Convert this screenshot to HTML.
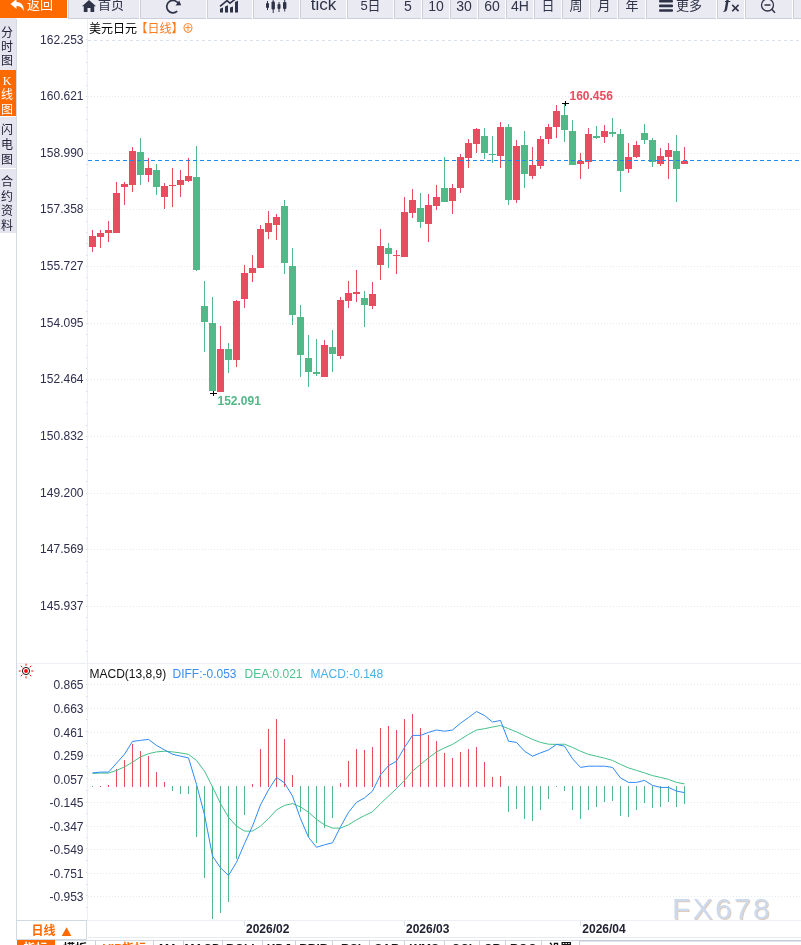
<!DOCTYPE html>
<html lang="zh-CN">
<head>
<meta charset="utf-8">
<title>美元日元 日线</title>
<style>
html,body{margin:0;padding:0;background:#fff;}
body{width:801px;height:945px;overflow:hidden;position:relative;font-family:"Liberation Sans","Noto Sans CJK SC",sans-serif;}
.chart{position:absolute;left:0;top:0;font-family:"Liberation Sans","Noto Sans CJK SC",sans-serif;}
.toolbar{position:absolute;left:0;top:0;width:801px;height:19px;background:#fff;overflow:hidden;}
.tb{position:absolute;top:0;height:18px;background:#eaeaf3;border-bottom:1px solid #cdcedb;border-left:1px solid #cdcedb;color:#2f3347;font-size:13px;line-height:20px;white-space:nowrap;overflow:hidden;}
.tb.orange{background:#ff6a00;border:none;height:18px;}
.tb .c{position:absolute;left:0;right:0;top:-4px;text-align:center;}
.st{position:absolute;left:0;width:16px;box-sizing:border-box;padding-right:2px;background:#e4e5ee;color:#22223a;font-size:12px;text-align:center;}
.st span{display:block;line-height:14px;height:14px;}
.st.orange{background:#ff6a00;color:#fff;width:16px;}
.title{position:absolute;left:89px;top:21px;font-size:12px;line-height:16px;color:#000;white-space:nowrap;}
.title b{font-weight:normal;color:#ff7a1a;margin-left:-1.5px;}
.period{position:absolute;left:16px;top:920px;width:69px;height:18px;border:1px solid #d0d8e2;background:#fff;font-size:12px;line-height:20px;font-weight:bold;color:#ff6a00;text-align:center;}
.btabs{position:absolute;left:0;top:940px;width:801px;height:5px;overflow:hidden;}
.bt{position:absolute;top:0;height:20px;border-top:1px solid #d5dbe6;border-right:1px solid #c9cfdc;font-size:12px;line-height:16px;text-align:center;color:#111;font-weight:bold;background:#fff;}
.bt.on{background:#ff6a00;color:#fff;border-color:#ff6a00;}
.bt.vip{color:#ff6a00;}
</style>
</head>
<body>
<svg class="chart" width="801" height="945" viewBox="0 0 801 945">
<g stroke="#e3ebf1" stroke-width="1" stroke-dasharray="1 2" shape-rendering="crispEdges">
<line x1="88" x2="801" y1="40.5" y2="40.5" stroke-dasharray="3 3" stroke="#d9e2ec"/>
<line x1="88" x2="801" y1="96.5" y2="96.5"/>
<line x1="88" x2="801" y1="153.5" y2="153.5"/>
<line x1="88" x2="801" y1="209.5" y2="209.5"/>
<line x1="88" x2="801" y1="266.5" y2="266.5"/>
<line x1="88" x2="801" y1="323.5" y2="323.5"/>
<line x1="88" x2="801" y1="379.5" y2="379.5"/>
<line x1="88" x2="801" y1="436.5" y2="436.5"/>
<line x1="88" x2="801" y1="493.5" y2="493.5"/>
<line x1="88" x2="801" y1="549.5" y2="549.5"/>
<line x1="88" x2="801" y1="606.5" y2="606.5"/>
<line x1="88" x2="801" y1="684.5" y2="684.5"/>
<line x1="88" x2="801" y1="708.5" y2="708.5"/>
<line x1="88" x2="801" y1="732.5" y2="732.5"/>
<line x1="88" x2="801" y1="755.5" y2="755.5"/>
<line x1="88" x2="801" y1="779.5" y2="779.5"/>
<line x1="88" x2="801" y1="802.5" y2="802.5"/>
<line x1="88" x2="801" y1="826.5" y2="826.5"/>
<line x1="88" x2="801" y1="849.5" y2="849.5"/>
<line x1="88" x2="801" y1="873.5" y2="873.5"/>
<line x1="88" x2="801" y1="896.5" y2="896.5"/>
</g>
<g stroke="#dbe1ec" stroke-width="1" shape-rendering="crispEdges">
<line x1="16.5" x2="16.5" y1="18" y2="940" stroke="#d3dbe5"/>
<line x1="87.5" x2="87.5" y1="18" y2="921" stroke="#ecf0f5"/>
<line x1="17" x2="801" y1="663.5" y2="663.5" stroke="#ecf0f5"/>
<line x1="17" x2="801" y1="920.5" y2="920.5" stroke="#ecf0f5"/>
<line x1="88" x2="801" y1="937.5" y2="937.5" stroke="#e6eaf1"/>
<line x1="580" x2="801" y1="940.5" y2="940.5" stroke="#c5ccd8"/>
<line x1="580" x2="801" y1="941.5" y2="941.5" stroke="#dfe4ec"/>
<line x1="244.5" x2="244.5" y1="921" y2="926"/>
<line x1="404.5" x2="404.5" y1="921" y2="926"/>
<line x1="580.5" x2="580.5" y1="921" y2="926"/>
</g>
<g stroke="#d3d7df" stroke-width="1" shape-rendering="crispEdges">
<line x1="86" x2="87" y1="39.5" y2="39.5"/>
<line x1="86" x2="87" y1="51.5" y2="51.5"/>
<line x1="86" x2="87" y1="62.5" y2="62.5"/>
<line x1="86" x2="87" y1="73.5" y2="73.5"/>
<line x1="86" x2="87" y1="85.5" y2="85.5"/>
<line x1="86" x2="87" y1="96.5" y2="96.5"/>
<line x1="86" x2="87" y1="107.5" y2="107.5"/>
<line x1="86" x2="87" y1="119.5" y2="119.5"/>
<line x1="86" x2="87" y1="130.5" y2="130.5"/>
<line x1="86" x2="87" y1="141.5" y2="141.5"/>
<line x1="86" x2="87" y1="153.5" y2="153.5"/>
<line x1="86" x2="87" y1="164.5" y2="164.5"/>
<line x1="86" x2="87" y1="175.5" y2="175.5"/>
<line x1="86" x2="87" y1="187.5" y2="187.5"/>
<line x1="86" x2="87" y1="198.5" y2="198.5"/>
<line x1="86" x2="87" y1="209.5" y2="209.5"/>
<line x1="86" x2="87" y1="221.5" y2="221.5"/>
<line x1="86" x2="87" y1="232.5" y2="232.5"/>
<line x1="86" x2="87" y1="243.5" y2="243.5"/>
<line x1="86" x2="87" y1="255.5" y2="255.5"/>
<line x1="86" x2="87" y1="266.5" y2="266.5"/>
<line x1="86" x2="87" y1="277.5" y2="277.5"/>
<line x1="86" x2="87" y1="289.5" y2="289.5"/>
<line x1="86" x2="87" y1="300.5" y2="300.5"/>
<line x1="86" x2="87" y1="311.5" y2="311.5"/>
<line x1="86" x2="87" y1="323.5" y2="323.5"/>
<line x1="86" x2="87" y1="334.5" y2="334.5"/>
<line x1="86" x2="87" y1="345.5" y2="345.5"/>
<line x1="86" x2="87" y1="357.5" y2="357.5"/>
<line x1="86" x2="87" y1="368.5" y2="368.5"/>
<line x1="86" x2="87" y1="379.5" y2="379.5"/>
<line x1="86" x2="87" y1="391.5" y2="391.5"/>
<line x1="86" x2="87" y1="402.5" y2="402.5"/>
<line x1="86" x2="87" y1="413.5" y2="413.5"/>
<line x1="86" x2="87" y1="425.5" y2="425.5"/>
<line x1="86" x2="87" y1="436.5" y2="436.5"/>
<line x1="86" x2="87" y1="447.5" y2="447.5"/>
<line x1="86" x2="87" y1="459.5" y2="459.5"/>
<line x1="86" x2="87" y1="470.5" y2="470.5"/>
<line x1="86" x2="87" y1="481.5" y2="481.5"/>
<line x1="86" x2="87" y1="493.5" y2="493.5"/>
<line x1="86" x2="87" y1="504.5" y2="504.5"/>
<line x1="86" x2="87" y1="515.5" y2="515.5"/>
<line x1="86" x2="87" y1="527.5" y2="527.5"/>
<line x1="86" x2="87" y1="538.5" y2="538.5"/>
<line x1="86" x2="87" y1="549.5" y2="549.5"/>
<line x1="86" x2="87" y1="561.5" y2="561.5"/>
<line x1="86" x2="87" y1="572.5" y2="572.5"/>
<line x1="86" x2="87" y1="583.5" y2="583.5"/>
<line x1="86" x2="87" y1="595.5" y2="595.5"/>
<line x1="86" x2="87" y1="606.5" y2="606.5"/>
<line x1="86" x2="87" y1="617.5" y2="617.5"/>
<line x1="86" x2="87" y1="629.5" y2="629.5"/>
<line x1="86" x2="87" y1="640.5" y2="640.5"/>
<line x1="86" x2="87" y1="651.5" y2="651.5"/>
<line x1="86" x2="87" y1="684.5" y2="684.5"/>
<line x1="86" x2="87" y1="696.5" y2="696.5"/>
<line x1="86" x2="87" y1="708.5" y2="708.5"/>
<line x1="86" x2="87" y1="719.5" y2="719.5"/>
<line x1="86" x2="87" y1="731.5" y2="731.5"/>
<line x1="86" x2="87" y1="743.5" y2="743.5"/>
<line x1="86" x2="87" y1="755.5" y2="755.5"/>
<line x1="86" x2="87" y1="766.5" y2="766.5"/>
<line x1="86" x2="87" y1="778.5" y2="778.5"/>
<line x1="86" x2="87" y1="790.5" y2="790.5"/>
<line x1="86" x2="87" y1="802.5" y2="802.5"/>
<line x1="86" x2="87" y1="813.5" y2="813.5"/>
<line x1="86" x2="87" y1="825.5" y2="825.5"/>
<line x1="86" x2="87" y1="837.5" y2="837.5"/>
<line x1="86" x2="87" y1="848.5" y2="848.5"/>
<line x1="86" x2="87" y1="860.5" y2="860.5"/>
<line x1="86" x2="87" y1="872.5" y2="872.5"/>
<line x1="86" x2="87" y1="884.5" y2="884.5"/>
<line x1="86" x2="87" y1="895.5" y2="895.5"/>
<line x1="86" x2="87" y1="907.5" y2="907.5"/>
</g>
<g shape-rendering="crispEdges">
<rect x="92" y="230" width="1" height="22" fill="#ea4c5f"/>
<rect x="89" y="236" width="7" height="11" fill="#ea4c5f"/>
<rect x="100" y="230" width="1" height="18" fill="#ea4c5f"/>
<rect x="97" y="233" width="7" height="4" fill="#ea4c5f"/>
<rect x="108" y="221" width="1" height="21" fill="#ea4c5f"/>
<rect x="105" y="230" width="7" height="3" fill="#ea4c5f"/>
<rect x="116" y="182" width="1" height="51" fill="#ea4c5f"/>
<rect x="113" y="193" width="7" height="40" fill="#ea4c5f"/>
<rect x="124" y="182" width="1" height="23" fill="#ea4c5f"/>
<rect x="121" y="184" width="7" height="3" fill="#ea4c5f"/>
<rect x="132" y="147" width="1" height="45" fill="#ea4c5f"/>
<rect x="129" y="151" width="7" height="34" fill="#ea4c5f"/>
<rect x="140" y="138" width="1" height="47" fill="#53b787"/>
<rect x="137" y="152" width="7" height="23" fill="#53b787"/>
<rect x="148" y="158" width="1" height="24" fill="#ea4c5f"/>
<rect x="145" y="168" width="7" height="7" fill="#ea4c5f"/>
<rect x="156" y="164" width="1" height="31" fill="#53b787"/>
<rect x="153" y="170" width="7" height="17" fill="#53b787"/>
<rect x="164" y="183" width="1" height="26" fill="#ea4c5f"/>
<rect x="161" y="186" width="7" height="11" fill="#ea4c5f"/>
<rect x="172" y="168" width="1" height="39" fill="#ea4c5f"/>
<rect x="169" y="185" width="7" height="1" fill="#ea4c5f"/>
<rect x="180" y="170" width="1" height="27" fill="#ea4c5f"/>
<rect x="177" y="180" width="7" height="5" fill="#ea4c5f"/>
<rect x="188" y="158" width="1" height="24" fill="#ea4c5f"/>
<rect x="185" y="176" width="7" height="5" fill="#ea4c5f"/>
<rect x="196" y="146" width="1" height="125" fill="#53b787"/>
<rect x="193" y="177" width="7" height="93" fill="#53b787"/>
<rect x="204" y="281" width="1" height="71" fill="#53b787"/>
<rect x="201" y="306" width="7" height="16" fill="#53b787"/>
<rect x="212" y="297" width="1" height="94" fill="#53b787"/>
<rect x="209" y="323" width="7" height="68" fill="#53b787"/>
<rect x="220" y="326" width="1" height="66" fill="#ea4c5f"/>
<rect x="217" y="349" width="7" height="43" fill="#ea4c5f"/>
<rect x="228" y="343" width="1" height="30" fill="#53b787"/>
<rect x="225" y="349" width="7" height="11" fill="#53b787"/>
<rect x="236" y="300" width="1" height="67" fill="#ea4c5f"/>
<rect x="233" y="301" width="7" height="59" fill="#ea4c5f"/>
<rect x="244" y="265" width="1" height="43" fill="#ea4c5f"/>
<rect x="241" y="273" width="7" height="26" fill="#ea4c5f"/>
<rect x="252" y="255" width="1" height="27" fill="#ea4c5f"/>
<rect x="249" y="268" width="7" height="5" fill="#ea4c5f"/>
<rect x="260" y="225" width="1" height="43" fill="#ea4c5f"/>
<rect x="257" y="229" width="7" height="39" fill="#ea4c5f"/>
<rect x="268" y="211" width="1" height="28" fill="#ea4c5f"/>
<rect x="265" y="223" width="7" height="9" fill="#ea4c5f"/>
<rect x="276" y="214" width="1" height="26" fill="#ea4c5f"/>
<rect x="273" y="217" width="7" height="8" fill="#ea4c5f"/>
<rect x="284" y="200" width="1" height="74" fill="#53b787"/>
<rect x="281" y="206" width="7" height="57" fill="#53b787"/>
<rect x="292" y="248" width="1" height="77" fill="#53b787"/>
<rect x="289" y="266" width="7" height="49" fill="#53b787"/>
<rect x="300" y="305" width="1" height="72" fill="#53b787"/>
<rect x="297" y="317" width="7" height="38" fill="#53b787"/>
<rect x="308" y="335" width="1" height="52" fill="#53b787"/>
<rect x="305" y="358" width="7" height="14" fill="#53b787"/>
<rect x="316" y="339" width="1" height="37" fill="#53b787"/>
<rect x="313" y="372" width="7" height="2" fill="#53b787"/>
<rect x="324" y="340" width="1" height="37" fill="#ea4c5f"/>
<rect x="321" y="345" width="7" height="32" fill="#ea4c5f"/>
<rect x="332" y="330" width="1" height="42" fill="#53b787"/>
<rect x="329" y="347" width="7" height="7" fill="#53b787"/>
<rect x="340" y="297" width="1" height="62" fill="#ea4c5f"/>
<rect x="337" y="300" width="7" height="56" fill="#ea4c5f"/>
<rect x="348" y="281" width="1" height="27" fill="#ea4c5f"/>
<rect x="345" y="293" width="7" height="8" fill="#ea4c5f"/>
<rect x="356" y="270" width="1" height="32" fill="#ea4c5f"/>
<rect x="353" y="292" width="7" height="2" fill="#ea4c5f"/>
<rect x="364" y="291" width="1" height="36" fill="#53b787"/>
<rect x="361" y="298" width="7" height="7" fill="#53b787"/>
<rect x="372" y="282" width="1" height="27" fill="#ea4c5f"/>
<rect x="369" y="294" width="7" height="12" fill="#ea4c5f"/>
<rect x="380" y="229" width="1" height="51" fill="#ea4c5f"/>
<rect x="377" y="246" width="7" height="19" fill="#ea4c5f"/>
<rect x="388" y="243" width="1" height="25" fill="#53b787"/>
<rect x="385" y="248" width="7" height="6" fill="#53b787"/>
<rect x="396" y="250" width="1" height="24" fill="#ea4c5f"/>
<rect x="393" y="255" width="7" height="1" fill="#ea4c5f"/>
<rect x="404" y="197" width="1" height="60" fill="#ea4c5f"/>
<rect x="401" y="212" width="7" height="45" fill="#ea4c5f"/>
<rect x="412" y="189" width="1" height="29" fill="#ea4c5f"/>
<rect x="409" y="200" width="7" height="13" fill="#ea4c5f"/>
<rect x="420" y="193" width="1" height="35" fill="#53b787"/>
<rect x="417" y="208" width="7" height="14" fill="#53b787"/>
<rect x="428" y="194" width="1" height="48" fill="#ea4c5f"/>
<rect x="425" y="205" width="7" height="19" fill="#ea4c5f"/>
<rect x="436" y="185" width="1" height="25" fill="#ea4c5f"/>
<rect x="433" y="197" width="7" height="9" fill="#ea4c5f"/>
<rect x="444" y="157" width="1" height="45" fill="#53b787"/>
<rect x="441" y="188" width="7" height="14" fill="#53b787"/>
<rect x="452" y="184" width="1" height="30" fill="#ea4c5f"/>
<rect x="449" y="188" width="7" height="13" fill="#ea4c5f"/>
<rect x="460" y="154" width="1" height="39" fill="#ea4c5f"/>
<rect x="457" y="157" width="7" height="31" fill="#ea4c5f"/>
<rect x="468" y="139" width="1" height="29" fill="#ea4c5f"/>
<rect x="465" y="143" width="7" height="15" fill="#ea4c5f"/>
<rect x="476" y="128" width="1" height="25" fill="#ea4c5f"/>
<rect x="473" y="129" width="7" height="15" fill="#ea4c5f"/>
<rect x="484" y="128" width="1" height="31" fill="#53b787"/>
<rect x="481" y="136" width="7" height="17" fill="#53b787"/>
<rect x="492" y="136" width="1" height="27" fill="#53b787"/>
<rect x="489" y="154" width="7" height="1" fill="#53b787"/>
<rect x="500" y="122" width="1" height="46" fill="#ea4c5f"/>
<rect x="497" y="127" width="7" height="29" fill="#ea4c5f"/>
<rect x="508" y="124" width="1" height="81" fill="#53b787"/>
<rect x="505" y="127" width="7" height="73" fill="#53b787"/>
<rect x="516" y="140" width="1" height="63" fill="#ea4c5f"/>
<rect x="513" y="146" width="7" height="54" fill="#ea4c5f"/>
<rect x="524" y="131" width="1" height="57" fill="#53b787"/>
<rect x="521" y="145" width="7" height="29" fill="#53b787"/>
<rect x="532" y="147" width="1" height="32" fill="#ea4c5f"/>
<rect x="529" y="165" width="7" height="11" fill="#ea4c5f"/>
<rect x="540" y="136" width="1" height="33" fill="#ea4c5f"/>
<rect x="537" y="139" width="7" height="27" fill="#ea4c5f"/>
<rect x="548" y="124" width="1" height="20" fill="#ea4c5f"/>
<rect x="545" y="127" width="7" height="12" fill="#ea4c5f"/>
<rect x="556" y="105" width="1" height="33" fill="#ea4c5f"/>
<rect x="553" y="111" width="7" height="16" fill="#ea4c5f"/>
<rect x="564" y="103" width="1" height="39" fill="#53b787"/>
<rect x="561" y="115" width="7" height="15" fill="#53b787"/>
<rect x="572" y="120" width="1" height="45" fill="#53b787"/>
<rect x="569" y="131" width="7" height="34" fill="#53b787"/>
<rect x="580" y="153" width="1" height="26" fill="#ea4c5f"/>
<rect x="577" y="161" width="7" height="3" fill="#ea4c5f"/>
<rect x="588" y="128" width="1" height="41" fill="#ea4c5f"/>
<rect x="585" y="134" width="7" height="28" fill="#ea4c5f"/>
<rect x="596" y="126" width="1" height="13" fill="#53b787"/>
<rect x="593" y="136" width="7" height="2" fill="#53b787"/>
<rect x="604" y="125" width="1" height="18" fill="#ea4c5f"/>
<rect x="601" y="131" width="7" height="6" fill="#ea4c5f"/>
<rect x="612" y="118" width="1" height="19" fill="#53b787"/>
<rect x="609" y="132" width="7" height="2" fill="#53b787"/>
<rect x="620" y="129" width="1" height="63" fill="#53b787"/>
<rect x="617" y="134" width="7" height="37" fill="#53b787"/>
<rect x="628" y="143" width="1" height="30" fill="#ea4c5f"/>
<rect x="625" y="157" width="7" height="12" fill="#ea4c5f"/>
<rect x="636" y="141" width="1" height="17" fill="#ea4c5f"/>
<rect x="633" y="145" width="7" height="12" fill="#ea4c5f"/>
<rect x="644" y="124" width="1" height="20" fill="#53b787"/>
<rect x="641" y="133" width="7" height="7" fill="#53b787"/>
<rect x="652" y="138" width="1" height="29" fill="#53b787"/>
<rect x="649" y="140" width="7" height="22" fill="#53b787"/>
<rect x="660" y="148" width="1" height="18" fill="#ea4c5f"/>
<rect x="657" y="156" width="7" height="8" fill="#ea4c5f"/>
<rect x="668" y="143" width="1" height="36" fill="#ea4c5f"/>
<rect x="665" y="150" width="7" height="7" fill="#ea4c5f"/>
<rect x="676" y="135" width="1" height="67" fill="#53b787"/>
<rect x="673" y="151" width="7" height="18" fill="#53b787"/>
<rect x="684" y="147" width="1" height="17" fill="#ea4c5f"/>
<rect x="681" y="161" width="7" height="3" fill="#ea4c5f"/>
</g>
<line x1="88" x2="801" y1="160.5" y2="160.5" stroke="#1e88f5" stroke-width="1" stroke-dasharray="4 3" shape-rendering="crispEdges"/>
<g shape-rendering="crispEdges">
<rect x="92" y="786" width="1" height="1" fill="#53b787"/>
<rect x="100" y="786" width="1" height="1" fill="#ea4c5f"/>
<rect x="108" y="785" width="1" height="2" fill="#ea4c5f"/>
<rect x="116" y="769" width="1" height="18" fill="#ea4c5f"/>
<rect x="124" y="760" width="1" height="27" fill="#ea4c5f"/>
<rect x="132" y="744" width="1" height="43" fill="#ea4c5f"/>
<rect x="140" y="751" width="1" height="36" fill="#ea4c5f"/>
<rect x="148" y="756" width="1" height="31" fill="#ea4c5f"/>
<rect x="156" y="772" width="1" height="15" fill="#ea4c5f"/>
<rect x="164" y="782" width="1" height="5" fill="#ea4c5f"/>
<rect x="172" y="786" width="1" height="5" fill="#53b787"/>
<rect x="180" y="786" width="1" height="8" fill="#53b787"/>
<rect x="188" y="786" width="1" height="8" fill="#53b787"/>
<rect x="196" y="786" width="1" height="51" fill="#53b787"/>
<rect x="204" y="786" width="1" height="92" fill="#53b787"/>
<rect x="212" y="786" width="1" height="133" fill="#53b787"/>
<rect x="220" y="786" width="1" height="127" fill="#53b787"/>
<rect x="228" y="786" width="1" height="116" fill="#53b787"/>
<rect x="236" y="786" width="1" height="73" fill="#53b787"/>
<rect x="244" y="786" width="1" height="29" fill="#53b787"/>
<rect x="252" y="784" width="1" height="3" fill="#ea4c5f"/>
<rect x="260" y="749" width="1" height="38" fill="#ea4c5f"/>
<rect x="268" y="729" width="1" height="58" fill="#ea4c5f"/>
<rect x="276" y="719" width="1" height="68" fill="#ea4c5f"/>
<rect x="284" y="739" width="1" height="48" fill="#ea4c5f"/>
<rect x="292" y="775" width="1" height="12" fill="#ea4c5f"/>
<rect x="300" y="786" width="1" height="26" fill="#53b787"/>
<rect x="308" y="786" width="1" height="51" fill="#53b787"/>
<rect x="316" y="786" width="1" height="57" fill="#53b787"/>
<rect x="324" y="786" width="1" height="42" fill="#53b787"/>
<rect x="332" y="786" width="1" height="32" fill="#53b787"/>
<rect x="340" y="783" width="1" height="4" fill="#ea4c5f"/>
<rect x="348" y="761" width="1" height="26" fill="#ea4c5f"/>
<rect x="356" y="749" width="1" height="38" fill="#ea4c5f"/>
<rect x="364" y="750" width="1" height="37" fill="#ea4c5f"/>
<rect x="372" y="747" width="1" height="40" fill="#ea4c5f"/>
<rect x="380" y="728" width="1" height="59" fill="#ea4c5f"/>
<rect x="388" y="726" width="1" height="61" fill="#ea4c5f"/>
<rect x="396" y="730" width="1" height="57" fill="#ea4c5f"/>
<rect x="404" y="719" width="1" height="68" fill="#ea4c5f"/>
<rect x="412" y="714" width="1" height="73" fill="#ea4c5f"/>
<rect x="420" y="728" width="1" height="59" fill="#ea4c5f"/>
<rect x="428" y="735" width="1" height="52" fill="#ea4c5f"/>
<rect x="436" y="741" width="1" height="46" fill="#ea4c5f"/>
<rect x="444" y="753" width="1" height="34" fill="#ea4c5f"/>
<rect x="452" y="758" width="1" height="29" fill="#ea4c5f"/>
<rect x="460" y="752" width="1" height="35" fill="#ea4c5f"/>
<rect x="468" y="749" width="1" height="38" fill="#ea4c5f"/>
<rect x="476" y="747" width="1" height="40" fill="#ea4c5f"/>
<rect x="484" y="762" width="1" height="25" fill="#ea4c5f"/>
<rect x="492" y="777" width="1" height="10" fill="#ea4c5f"/>
<rect x="500" y="776" width="1" height="11" fill="#ea4c5f"/>
<rect x="508" y="786" width="1" height="26" fill="#53b787"/>
<rect x="516" y="786" width="1" height="23" fill="#53b787"/>
<rect x="524" y="786" width="1" height="33" fill="#53b787"/>
<rect x="532" y="786" width="1" height="35" fill="#53b787"/>
<rect x="540" y="786" width="1" height="24" fill="#53b787"/>
<rect x="548" y="786" width="1" height="13" fill="#53b787"/>
<rect x="556" y="786" width="1" height="1" fill="#53b787"/>
<rect x="564" y="786" width="1" height="5" fill="#53b787"/>
<rect x="572" y="786" width="1" height="24" fill="#53b787"/>
<rect x="580" y="786" width="1" height="33" fill="#53b787"/>
<rect x="588" y="786" width="1" height="24" fill="#53b787"/>
<rect x="596" y="786" width="1" height="21" fill="#53b787"/>
<rect x="604" y="786" width="1" height="16" fill="#53b787"/>
<rect x="612" y="786" width="1" height="15" fill="#53b787"/>
<rect x="620" y="786" width="1" height="30" fill="#53b787"/>
<rect x="628" y="786" width="1" height="31" fill="#53b787"/>
<rect x="636" y="786" width="1" height="24" fill="#53b787"/>
<rect x="644" y="786" width="1" height="17" fill="#53b787"/>
<rect x="652" y="786" width="1" height="22" fill="#53b787"/>
<rect x="660" y="786" width="1" height="21" fill="#53b787"/>
<rect x="668" y="786" width="1" height="16" fill="#53b787"/>
<rect x="676" y="786" width="1" height="21" fill="#53b787"/>
<rect x="684" y="786" width="1" height="18" fill="#53b787"/>
</g>
<polyline points="92.5,773.4 100.5,773.1 108.5,773.1 116.5,770.4 124.5,766.9 132.5,762.2 140.5,756.9 148.5,753.7 156.5,751.9 164.5,751.2 172.5,751.9 180.5,752.9 188.5,754.4 196.5,760.4 204.5,771.1 212.5,786.9 220.5,803.6 228.5,817.3 236.5,826.1 244.5,831.1 252.5,831.1 260.5,826.1 268.5,818.6 276.5,809.9 284.5,805.4 292.5,803.6 300.5,806.9 308.5,812.3 316.5,819.3 324.5,824.8 332.5,828.1 340.5,828.1 348.5,824.8 356.5,819.8 364.5,815.6 372.5,811.8 380.5,803.6 388.5,796.1 396.5,788.6 404.5,780.4 412.5,771.1 420.5,764.4 428.5,757.9 436.5,751.9 444.5,747.9 452.5,744.4 460.5,739.4 468.5,734.4 476.5,730.0 484.5,728.7 492.5,727.0 500.5,725.5 508.5,728.7 516.5,731.9 524.5,735.7 532.5,739.4 540.5,742.4 548.5,744.2 556.5,744.4 564.5,744.2 572.5,747.4 580.5,751.2 588.5,754.4 596.5,756.2 604.5,758.2 612.5,760.4 620.5,764.4 628.5,767.9 636.5,770.4 644.5,772.9 652.5,775.6 660.5,777.4 668.5,779.4 676.5,782.4 684.5,783.9" fill="none" stroke="#45c08a" stroke-width="1" stroke-linejoin="round"/>
<polyline points="92.5,772.9 100.5,772.1 108.5,772.1 116.5,763.2 124.5,754.2 132.5,741.4 140.5,740.4 148.5,739.4 156.5,745.4 164.5,749.9 172.5,754.2 180.5,756.2 188.5,757.9 196.5,784.4 204.5,814.8 212.5,856.0 220.5,867.8 228.5,875.5 236.5,862.3 244.5,843.6 252.5,826.1 260.5,804.9 268.5,789.9 276.5,777.4 284.5,782.9 292.5,796.1 300.5,818.6 308.5,837.3 316.5,847.3 324.5,844.8 332.5,842.8 340.5,826.8 348.5,812.3 356.5,802.4 364.5,797.9 372.5,791.1 380.5,774.9 388.5,765.7 396.5,761.2 404.5,747.4 412.5,735.4 420.5,735.4 428.5,732.4 436.5,730.0 444.5,731.2 452.5,730.0 460.5,723.2 468.5,717.5 476.5,711.5 484.5,715.5 492.5,722.0 500.5,720.5 508.5,741.2 516.5,742.4 524.5,751.2 532.5,756.2 540.5,752.9 548.5,749.9 556.5,744.4 564.5,746.2 572.5,758.7 580.5,767.4 588.5,766.2 596.5,766.2 604.5,766.2 612.5,767.4 620.5,777.9 628.5,782.4 636.5,782.4 644.5,780.4 652.5,785.4 660.5,787.4 668.5,787.4 676.5,791.1 684.5,792.6" fill="none" stroke="#2f8af5" stroke-width="1" stroke-linejoin="round"/>
<g stroke="#000" stroke-width="1" shape-rendering="crispEdges"><line x1="562" x2="569" y1="103.5" y2="103.5"/><line x1="565.5" x2="565.5" y1="101" y2="106"/>
<line x1="210" x2="217" y1="393.5" y2="393.5"/><line x1="213.5" x2="213.5" y1="391" y2="396"/></g>
<text x="569.5" y="100" font-size="12" font-weight="bold" fill="#ea4c5f">160.456</text>
<text x="217.5" y="405" font-size="12" font-weight="bold" fill="#53b787">152.091</text>
<g font-size="12" fill="#2e2e4e" text-anchor="end">
<text x="83.5" y="44.0">162.253</text>
<text x="83.5" y="100.0">160.621</text>
<text x="83.5" y="157.0">158.990</text>
<text x="83.5" y="213.0">157.358</text>
<text x="83.5" y="270.0">155.727</text>
<text x="83.5" y="327.0">154.095</text>
<text x="83.5" y="383.0">152.464</text>
<text x="83.5" y="440.0">150.832</text>
<text x="83.5" y="497.0">149.200</text>
<text x="83.5" y="553.0">147.569</text>
<text x="83.5" y="610.0">145.937</text>
<text x="83.5" y="689.0">0.865</text>
<text x="83.5" y="713.0">0.663</text>
<text x="83.5" y="737.0">0.461</text>
<text x="83.5" y="760.0">0.259</text>
<text x="83.5" y="784.0">0.057</text>
<text x="83.5" y="807.0">-0.145</text>
<text x="83.5" y="831.0">-0.347</text>
<text x="83.5" y="854.0">-0.549</text>
<text x="83.5" y="878.0">-0.751</text>
<text x="83.5" y="901.0">-0.953</text>
</g>
<g font-size="12" font-weight="bold" fill="#222233">
<text x="246" y="933">2026/02</text>
<text x="406" y="933">2026/03</text>
<text x="582.3" y="933">2026/04</text>
</g>
<g font-size="12">
<text x="89.5" y="678" fill="#111">MACD(13,8,9)</text>
<text x="172.5" y="678" fill="#3b8df2">DIFF:-0.053</text>
<text x="244.5" y="678" fill="#4cc48e">DEA:0.021</text>
<text x="310.5" y="678" fill="#49b1ea">MACD:-0.148</text>
</g>
<g stroke="#f00" stroke-width="1" fill="none"><circle cx="26" cy="671" r="3.6" stroke="#000" stroke-width="0.9"/><circle cx="26" cy="671" r="1.9" fill="#f00" stroke="none"/>
<line x1="31.3" y1="671.0" x2="33.3" y2="671.0"/>
<line x1="29.7" y1="674.7" x2="31.2" y2="676.2"/>
<line x1="26.0" y1="676.3" x2="26.0" y2="678.3"/>
<line x1="22.3" y1="674.7" x2="20.8" y2="676.2"/>
<line x1="20.7" y1="671.0" x2="18.7" y2="671.0"/>
<line x1="22.3" y1="667.3" x2="20.8" y2="665.8"/>
<line x1="26.0" y1="665.7" x2="26.0" y2="663.7"/>
<line x1="29.7" y1="667.3" x2="31.2" y2="665.8"/>
</g>
<text x="673" y="920.3" font-size="30" letter-spacing="2.3" fill="#b98f6a" opacity="0.45">FX678</text>
<text x="672" y="919.3" font-size="30" letter-spacing="2.3" fill="#cddaed">FX678</text>
</svg>
<div class="toolbar">
<div class="tb orange" style="left:0px;width:67px"><svg width="16" height="14" viewBox="0 0 16 14" style="position:absolute;left:10px;top:-1px"><path d="M6.5 0 L0.5 5 L6.5 10 L6.5 7 C10 7 12.5 8.5 13.5 12 C14.5 7 11.5 3.2 6.5 3 Z" fill="#fff"/></svg><span style="position:absolute;left:27px;top:-5px;color:#fff">返回</span></div>
<div class="tb " style="left:68px;width:70px"><svg width="14" height="13" viewBox="0 0 14 13" style="position:absolute;left:13px;top:0px"><path d="M7 0 L0 6.3 L1.8 6.3 L1.8 12 L5.5 12 L5.5 8 L8.5 8 L8.5 12 L12.2 12 L12.2 6.3 L14 6.3 Z" fill="#2f3347"/></svg><span style="position:absolute;left:29px;top:-5px">首页</span></div>
<div class="tb " style="left:140px;width:65px"><svg width="18" height="16" viewBox="0 0 18 16" style="position:absolute;left:24px;top:-1px"><path d="M12.2 12.2 A6.2 6.2 0 1 1 13.6 5" fill="none" stroke="#2f3347" stroke-width="1.7"/><path d="M10.5 6.6 L16.2 6.2 L14.2 1.5 Z" fill="#2f3347"/></svg></div>
<div class="tb " style="left:207px;width:44px"><svg width="20" height="14" viewBox="0 0 20 14" style="position:absolute;left:12px;top:0px;overflow:visible"><g fill="#2f3347"><path d="M0 8.8 L3 7.6 L3 12.6 L0 12.6 Z"/><path d="M5 6.4 L8 5.2 L8 12.6 L5 12.6 Z"/><path d="M10 7.6 L13 6.4 L13 12.6 L10 12.6 Z"/><path d="M15 2 L18 0.8 L18 12.6 L15 12.6 Z"/></g><path d="M0 6.4 L7 0.6 L10 3.2 L16.5 -1.8" fill="none" stroke="#2f3347" stroke-width="1.6"/></svg></div>
<div class="tb " style="left:253px;width:45px"><svg width="22" height="15" viewBox="0 0 22 15" style="position:absolute;left:12px;top:-1px"><g fill="#2f3347"><rect x="0" y="4" width="3" height="5" rx="1"/><rect x="1" y="2" width="1" height="9"/><rect x="5.5" y="2.5" width="3.4" height="8" rx="1"/><rect x="6.7" y="0" width="1" height="14"/><rect x="11.5" y="5" width="3" height="5" rx="1"/><rect x="12.5" y="3" width="1" height="10"/><rect x="17" y="3" width="3.4" height="7" rx="1"/><rect x="18.2" y="0.5" width="1" height="12"/></g></svg></div>
<div class="tb " style="left:300px;width:45px"><span class="c" style="font-size:17px;top:-5px">tick</span></div>
<div class="tb " style="left:347px;width:45px"><span class="c">5日</span></div>
<div class="tb " style="left:394px;width:26px"><span class="c" style="font-size:14px;top:-4.5px">5</span></div>
<div class="tb " style="left:422px;width:26px"><span class="c" style="font-size:14px;top:-4.5px">10</span></div>
<div class="tb " style="left:450px;width:26px"><span class="c" style="font-size:14px;top:-4.5px">30</span></div>
<div class="tb " style="left:478px;width:26px"><span class="c" style="font-size:14px;top:-4.5px">60</span></div>
<div class="tb " style="left:506px;width:26px"><span class="c" style="font-size:14px;top:-4.5px">4H</span></div>
<div class="tb " style="left:534px;width:26px"><span class="c">日</span></div>
<div class="tb " style="left:562px;width:26px"><span class="c">周</span></div>
<div class="tb " style="left:590px;width:26px"><span class="c">月</span></div>
<div class="tb " style="left:618px;width:26px"><span class="c">年</span></div>
<div class="tb " style="left:646px;width:69px"><svg width="15" height="12" viewBox="0 0 15 12" style="position:absolute;left:12px;top:0px"><g fill="#2f3347"><rect x="0" y="0" width="14" height="2.6" rx="1"/><rect x="0" y="4.6" width="14" height="2.6" rx="1"/><rect x="0" y="9.2" width="14" height="2.6" rx="1"/></g></svg><span style="position:absolute;left:29px;top:-4px">更多</span></div>
<div class="tb " style="left:717px;width:26px"><span style="position:absolute;left:6px;top:-4px;line-height:normal;font:italic bold 14px 'DejaVu Serif',serif">f</span><span style="position:absolute;left:13px;top:-2px;font-size:15px;font-weight:bold">×</span></div>
<div class="tb " style="left:745px;width:46px"><svg width="18" height="16" viewBox="0 0 18 16" style="position:absolute;left:14px;top:-2px"><circle cx="7.5" cy="7" r="6" fill="none" stroke="#2f3347" stroke-width="1.3"/><line x1="4.5" y1="7" x2="10.5" y2="7" stroke="#2f3347" stroke-width="1.5"/><line x1="11.8" y1="11.3" x2="15" y2="14.8" stroke="#2f3347" stroke-width="1.5"/></svg></div>
<div class="tb " style="left:793px;width:7px"></div>
</div>
<div class="st " style="top:18px;height:52px;padding-top:8px"><span style="line-height:14px;height:14px">分</span><span style="line-height:14px;height:14px">时</span><span style="line-height:14px;height:14px">图</span></div>
<div class="st orange" style="top:70px;height:46px;padding-top:4px"><span style="line-height:14.4px;height:14.4px;font-family:'Liberation Serif',serif">K</span><span style="line-height:14.4px;height:14.4px">线</span><span style="line-height:14.4px;height:14.4px">图</span></div>
<div class="st " style="top:117px;height:51px;padding-top:6px"><span style="line-height:14.8px;height:14.8px">闪</span><span style="line-height:14.8px;height:14.8px">电</span><span style="line-height:14.8px;height:14.8px">图</span></div>
<div class="st " style="top:169px;height:64px;padding-top:6px"><span style="line-height:14.6px;height:14.6px">合</span><span style="line-height:14.6px;height:14.6px">约</span><span style="line-height:14.6px;height:14.6px">资</span><span style="line-height:14.6px;height:14.6px">料</span></div>
<div class="title">美元日元<b>【日线】</b><b style="font-size:12px;position:relative;top:0px;left:0px">⊕</b></div>
<div class="period">日线 <span style="font-size:13px;display:inline-block;transform:scale(1.25,1.15);position:relative;left:1px;top:-0.5px">▲</span></div>
<div class="btabs">
<div class="bt on" style="left:17px;width:37px">指标</div>
<div class="bt " style="left:55px;width:40px">模板</div>
<div class="bt vip" style="left:96px;width:57px">VIP指标</div>
<div class="bt " style="left:154px;width:28.5px">MA</div>
<div class="bt " style="left:183.5px;width:38.19999999999999px">MACD</div>
<div class="bt " style="left:222.7px;width:39.30000000000001px">BOLL</div>
<div class="bt " style="left:263px;width:31.69999999999999px">KDJ</div>
<div class="bt " style="left:295.7px;width:36.30000000000001px">BBIB</div>
<div class="bt " style="left:333px;width:36px">RSI</div>
<div class="bt " style="left:370px;width:34px">SAR</div>
<div class="bt " style="left:405px;width:38.69999999999999px">WMS</div>
<div class="bt " style="left:444.7px;width:34.30000000000001px">CCI</div>
<div class="bt " style="left:480px;width:25px">CR</div>
<div class="bt " style="left:506px;width:34.5px">ROC</div>
<div class="bt " style="left:541.5px;width:37.5px">设置</div>
</div>
</body>
</html>
